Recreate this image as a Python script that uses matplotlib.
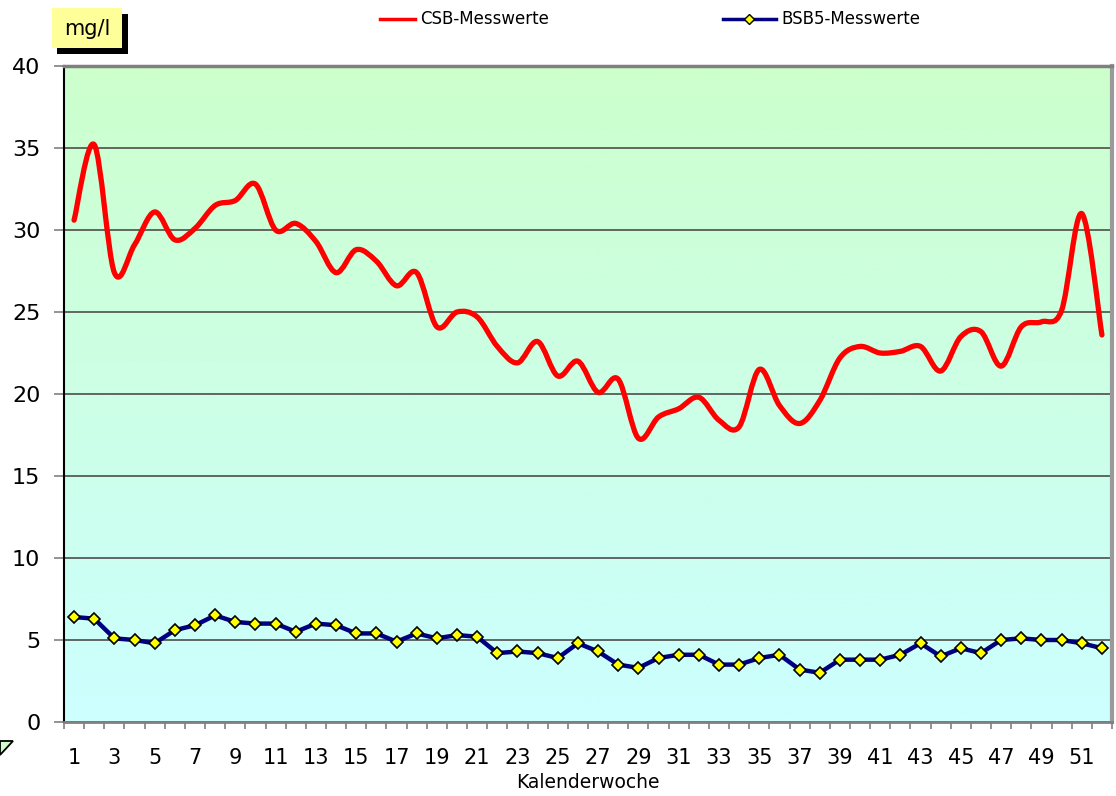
import numpy as np
import matplotlib
matplotlib.use('Agg')
import matplotlib.pyplot as plt
from matplotlib.path import Path
from matplotlib.patches import PathPatch, Rectangle, Polygon
from matplotlib.lines import Line2D
from matplotlib.colors import LinearSegmentedColormap

# Kalenderwochen 1..52
weeks = np.arange(1, 53)
csb = [30.6, 35.2, 27.4, 29.1, 31.1, 29.4, 30.1, 31.5, 31.8, 32.8,
       30.0, 30.4, 29.3, 27.4, 28.8, 28.1, 26.6, 27.4, 24.1, 25.0,
       24.7, 22.9, 21.9, 23.2, 21.1, 22.0, 20.1, 20.9, 17.3, 18.6,
       19.1, 19.8, 18.4, 18.0, 21.5, 19.3, 18.2, 19.6, 22.2, 22.9,
       22.5, 22.6, 22.9, 21.4, 23.5, 23.8, 21.7, 24.1, 24.4, 25.1,
       31.0, 23.6]
bsb5 = [6.4, 6.3, 5.1, 5.0, 4.8, 5.6, 5.9, 6.5, 6.1, 6.0,
        6.0, 5.5, 6.0, 5.9, 5.4, 5.4, 4.9, 5.4, 5.1, 5.3,
        5.2, 4.2, 4.3, 4.2, 3.9, 4.8, 4.3, 3.5, 3.3, 3.9,
        4.1, 4.1, 3.5, 3.5, 3.9, 4.1, 3.2, 3.0, 3.8, 3.8,
        3.8, 4.1, 4.8, 4.0, 4.5, 4.2, 5.0, 5.1, 5.0, 5.0,
        4.8, 4.5]
yticks = [0, 5, 10, 15, 20, 25, 30, 35, 40]
xlabels = list(range(1, 53, 2))

W, H = 1116, 796
plt.rcParams['font.family'] = ['DejaVu Sans']


def smooth_path(x, y):
    # Bezier-Glaettung wie in Excel (Catmull-Rom Kontrollpunkte)
    pts = np.column_stack([x, y]).astype(float)
    n = len(pts)
    verts = [pts[0]]
    codes = [Path.MOVETO]
    for i in range(n - 1):
        p0 = pts[max(i - 1, 0)]
        p1 = pts[i]
        p2 = pts[i + 1]
        p3 = pts[min(i + 2, n - 1)]
        verts += [p1 + (p2 - p0) / 6, p2 - (p3 - p1) / 6, p2]
        codes += [Path.CURVE4] * 3
    return Path(verts, codes)


fig = plt.figure(figsize=(W / 100, H / 100), dpi=100)
ax = fig.add_axes([64 / W, 74 / H, 1048 / W, 656 / H])

# Hintergrund-Verlauf
cmap = LinearSegmentedColormap.from_list('bg', ['#ccffff', '#ccffcc'])
grad = np.linspace(0, 1, 256).reshape(-1, 1)
ax.imshow(grad, extent=[0.5, 52.5, 0, 40], origin='lower', aspect='auto',
          cmap=cmap, zorder=0)

ax.set_xlim(0.5, 52.5)
ax.set_ylim(0, 40)

ax.set_yticks(yticks)
ax.yaxis.grid(True, color='#4d4d4d', lw=1.2, zorder=1)
ax.set_axisbelow(True)

ax.set_xticks(xlabels)
ax.set_xticklabels([str(v) for v in xlabels])
ax.set_xticks(np.arange(0.5, 53, 1), minor=True)
ax.tick_params(axis='x', which='major', length=0, pad=19, labelsize=15)
ax.tick_params(axis='x', which='minor', length=5, width=1.2, color='#808080')
ax.tick_params(axis='y', which='major', length=7, width=1.2, color='#808080',
               pad=10, labelsize=16)
ax.set_xlabel('Kalenderwoche', fontsize=13.5, labelpad=3)

ax.spines['left'].set_color('black')
ax.spines['left'].set_linewidth(1.5)
ax.spines['bottom'].set_color('#808080')
ax.spines['bottom'].set_linewidth(2)
ax.spines['top'].set_color('#808080')
ax.spines['top'].set_linewidth(2.5)
ax.spines['right'].set_color('#9a9a9a')
ax.spines['right'].set_linewidth(3)

# CSB geglaettet
ax.add_patch(PathPatch(smooth_path(weeks, csb), fill=False, edgecolor='#ff0000',
                       lw=3.8, capstyle='round', joinstyle='round', zorder=3))
# BSB5
ax.plot(weeks, bsb5, color='#000080', lw=3.2, marker='D', ms=6.5,
        mfc='#ffff00', mec='black', mew=1.2, zorder=4)

# Legende oben
ly = 1 - 19 / H
fig.add_artist(Line2D([380 / W, 415 / W], [ly, ly], color='#ff0000', lw=2.5))
fig.text(420 / W, ly, 'CSB-Messwerte', va='center', ha='left', fontsize=12)
fig.add_artist(Line2D([723 / W, 749 / W, 776 / W], [ly, ly, ly], color='#000080',
                      lw=2.5, marker='D', ms=5, mfc='#ffff00', mec='black',
                      mew=1, markevery=[1]))
fig.text(781 / W, ly, 'BSB5-Messwerte', va='center', ha='left', fontsize=12)

# Einheit "mg/l" mit Schatten
fig.add_artist(Rectangle((57 / W, 1 - 54 / H), 71 / W, 40 / H, facecolor='black',
                         edgecolor='none', transform=fig.transFigure))
fig.add_artist(Rectangle((52 / W, 1 - 48 / H), 70 / W, 40 / H, facecolor='#ffff99',
                         edgecolor='none', transform=fig.transFigure))
fig.text(87 / W, 1 - 29 / H, 'mg/l', ha='center', va='center', fontsize=15)

# kleines Dreieck unten links
fig.add_artist(Polygon([(0, 1 - 741 / H), (13 / W, 1 - 741 / H), (0, 1 - 755 / H)],
                       closed=True, facecolor='#ccffcc', edgecolor='black', lw=1.3,
                       transform=fig.transFigure))

fig.savefig('out.png', dpi=100)
